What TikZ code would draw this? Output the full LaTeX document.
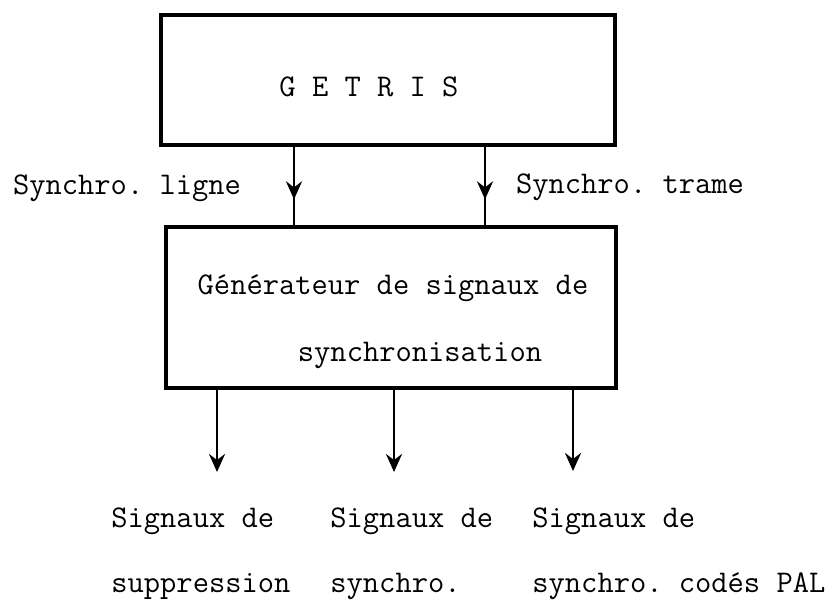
\documentclass[tikz,border=0pt]{standalone}
\usepackage{tikz}
\usetikzlibrary{positioning,arrows.meta,calc,decorations.markings}
\tikzset{
  sigbox/.style={draw, line width=1.7pt, inner sep=0pt},
  sigtext/.style={font=\ttfamily\fontsize{15.8}{32.5}\selectfont, inner sep=0pt, align=left},
  sigline/.style={line width=1.4pt},
  sigarrow/.style={sigline, -{Stealth[length=9pt, width=8pt, inset=3pt]}},
  midarrow/.style={sigline, postaction={decorate},
    decoration={markings, mark=at position #1 with {\arrow{Stealth[length=9pt, width=8pt, inset=3pt]}}}},
}

\begin{document}
\frenchspacing
\begin{tikzpicture}[x=0.5pt, y=-0.5pt]
  \useasboundingbox (0,0) rectangle (835,602);
  % blocs
  \node[sigbox, minimum width=227pt, minimum height=65pt] (getris) at (388,80) {};
  \node[sigtext] (getrisname) at (369,87) {G E T R I S};
  \node[sigbox, minimum width=225pt, minimum height=80.5pt] (gen) at (391,307.5) {};
  \node[sigtext] (genline1) at (393,288) {Générateur de signaux de};
  \node[sigtext] (genline2) at (420,355) {synchronisation};
  % synchro ligne / trame
  \coordinate (ligneX) at (294,0);
  \coordinate (trameX) at (485,0);
  \draw[midarrow=0.67] (getris.south -| ligneX) -- (gen.north -| ligneX);
  \draw[midarrow=0.67] (getris.south -| trameX) -- (gen.north -| trameX);
  \node[sigtext] (ligne) at (127,188) {Synchro. ligne};
  \node[sigtext] (trame) at (630,187) {Synchro. trame};
  % sorties
  \coordinate (supEnd) at (217,472);
  \coordinate (syncEnd) at (394,472);
  \coordinate (palEnd) at (573,471);
  \draw[sigarrow] (gen.south -| supEnd) -- (supEnd);
  \draw[sigarrow] (gen.south -| syncEnd) -- (syncEnd);
  \draw[sigarrow] (gen.south -| palEnd) -- (palEnd);
  \node[sigtext, anchor=west] (sup) at (111,554) {Signaux de\\suppression};
  \node[sigtext, anchor=west] (sync) at (330,554) {Signaux de\\synchro.};
  \node[sigtext, anchor=west] (pal) at (532,554) {Signaux de\\synchro. codés PAL};
\end{tikzpicture}
\end{document}
